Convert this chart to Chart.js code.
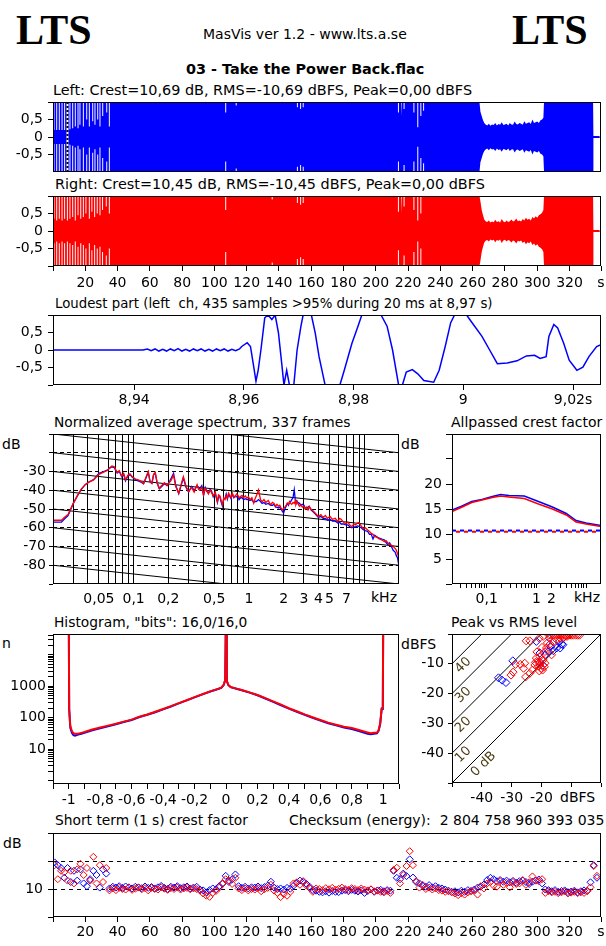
<!DOCTYPE html>
<html>
<head>
<meta charset="utf-8">
<script src="https://cdn.jsdelivr.net/npm/chart.js@4.4.1/dist/chart.umd.min.js"></script>
<style>
  html, body { margin: 0; padding: 0; background: #fff; }
  body { width: 606px; height: 946px; position: relative; overflow: hidden;
         font-family: 'DejaVu Sans', sans-serif; font-size: 14px; line-height: 14px; color: #000; }
  .t { position: absolute; white-space: pre; }
  .w { font-size: 14.4px; }
  .n { font-size: 13.8px; }
  .lts { font-family: 'Liberation Serif', serif; font-weight: bold; font-size: 42px; line-height: 42px; }
  canvas { position: absolute; }
</style>
</head>
<body>
<div class="t lts" style="left:16px;top:9px">LTS</div>
<div class="t lts" style="left:512px;top:9px">LTS</div>
<div class="t" style="left:203px;top:27px">MasVis ver 1.2 - www.lts.a.se</div>
<div class="t w" style="left:186px;top:62px;font-weight:bold">03 - Take the Power Back.flac</div>
<div class="t w" style="left:53px;top:83px">Left: Crest=10,69 dB, RMS=-10,69 dBFS, Peak=0,00 dBFS</div>
<div class="t w" style="left:55px;top:177px">Right: Crest=10,45 dB, RMS=-10,45 dBFS, Peak=0,00 dBFS</div>
<div class="t" style="left:55px;top:297px;font-size:13.3px">Loudest part (left  ch, 435 samples >95% during 20 ms at 8,97 s)</div>
<div class="t n" style="left:54px;top:415px">Normalized average spectrum, 337 frames</div>
<div class="t" style="left:451px;top:415px">Allpassed crest factor</div>
<div class="t" style="left:2px;top:437px">dB</div>
<div class="t" style="left:401px;top:437px">dB</div>
<div class="t" style="left:371px;top:590px">kHz</div>
<div class="t" style="left:574px;top:590px">kHz</div>
<div class="t n" style="left:54px;top:615px">Histogram, "bits": 16,0/16,0</div>
<div class="t" style="left:451px;top:615px">Peak vs RMS level</div>
<div class="t" style="left:2px;top:636px">n</div>
<div class="t" style="left:401px;top:637px">dBFS</div>
<div class="t" style="left:560px;top:790px">dBFS</div>
<div class="t n" style="left:55px;top:813px">Short term (1 s) crest factor</div>
<div class="t" style="left:289px;top:813px">Checksum (energy):  2 804 758 960 393 035</div>
<div class="t" style="left:3px;top:836px">dB</div>

<script>
// ---- waveform overview (seconds / peak amplitude) ----
const timeMax = 339.5;
const timeTicks = [0, 20, 40, 60, 80, 100, 120, 140, 160, 180, 200, 220, 240, 260, 280, 300, 320, 339.5];
const waveTicks = [-1, -0.5, 0, 0.5, 1];
const waveLabelled = [-0.5, 0, 0.5];

const envT = [0, 264.2, 264.8, 265.6, 266.4, 267.2, 268, 269, 270, 271, 272, 273, 274, 275, 276, 277, 278, 279, 280,
  281, 282, 283, 284, 285, 286, 287, 288, 289, 290, 291, 292, 293, 294, 295, 296, 297, 298, 299, 300, 301, 302, 303,
  303.8, 304.2, 334.6, 334.8, 338.6, 338.8];
const leftEnvPk = [1, 1, 0.72, 0.6, 0.48, 0.4, 0.36, 0.33, 0.38, 0.32, 0.36, 0.34, 0.4, 0.33, 0.37, 0.35, 0.42, 0.34, 0.36,
  0.38, 0.33, 0.4, 0.36, 0.35, 0.44, 0.37, 0.36, 0.4, 0.38, 0.35, 0.45, 0.38, 0.4, 0.42, 0.37, 0.5, 0.4, 0.42, 0.44, 0.4, 0.48, 0.5,
  0.55, 1, 1, 0.03, 0.03, 0];
const rightEnvPk = [1, 1, 0.85, 0.6, 0.45, 0.33, 0.28, 0.26, 0.3, 0.24, 0.27, 0.25, 0.32, 0.26, 0.28, 0.24, 0.34, 0.27, 0.25,
  0.3, 0.26, 0.28, 0.33, 0.27, 0.29, 0.36, 0.28, 0.3, 0.27, 0.34, 0.3, 0.38, 0.32, 0.35, 0.3, 0.4, 0.36, 0.42, 0.38, 0.45, 0.48, 0.52,
  0.6, 1, 1, 0.03, 0.03, 0];

const leftNotchT = [0.6, 2.3, 3.9, 5.6, 7.2, 10.5, 12.2, 13.8, 15.5, 16.7, 18.8, 20.9, 22.5, 24.6, 26.0, 27.7, 29.1, 30.8,
  33.3, 34.9, 107, 113.5, 151.4, 153.4, 155, 214, 215.9, 217.5, 223.6, 226, 227.9, 229.6];
const leftNotchPk = [0.2, 0.2, 0.2, 0.2, 0.2, 0.22, 0.25, 0.3, 0.25, 0.35, 0.3, 0.5, 0.3, 0.45, 0.35, 0.5, 0.3, 0.6,
  0.7, 0.3, 0.7, 0.9, 0.85, 0.8, 0.85, 0.7, 0.6, 0.8, 0.7, 0.28, 0.6, 0.75];
const rightNotchT = [0.6, 2.3, 3.9, 5.6, 7.2, 8.9, 10.5, 12.2, 13.8, 15.5, 17.2, 18.8, 20.4, 22.5, 24.1, 25.8, 27.4, 29.1,
  30.7, 33.0, 34.9, 107, 135.8, 151.4, 153.4, 155, 214, 215.9, 217.5, 223.6, 226, 227.9];
const rightNotchPk = [0.35, 0.3, 0.35, 0.3, 0.35, 0.3, 0.35, 0.4, 0.3, 0.45, 0.35, 0.4, 0.5, 0.35, 0.55, 0.4, 0.5, 0.45,
  0.6, 0.7, 0.5, 0.6, 0.9, 0.8, 0.75, 0.8, 0.55, 0.5, 0.7, 0.6, 0.3, 0.5];
const loudestMarkS = 8.97;

// ---- loudest part (seconds / amplitude) ----
const loudMin = 8.9252, loudMax = 9.0251;
const loudTicks = [8.94, 8.96, 8.98, 9, 9.02];
const loudTickLabels = ['8,94', '8,96', '8,98', '9', '9,02s'];
const loudT = [8.9252, 8.9416, 8.9424, 8.9431, 8.9438, 8.9445, 8.9452, 8.9459, 8.9466, 8.9473, 8.9480, 8.9487, 8.9494,
  8.9501, 8.9508, 8.9515, 8.9522, 8.9529, 8.9536, 8.9543, 8.9550, 8.9557, 8.9564, 8.9571, 8.9578, 8.9585, 8.9592,
  8.9596, 8.9606, 8.9612, 8.9617, 8.9622, 8.9626, 8.9631, 8.9638, 8.9644, 8.9651, 8.9657, 8.9663, 8.9669, 8.9673,
  8.9678, 8.9683, 8.9691, 8.9697, 8.9704, 8.9708, 8.9723, 8.9730, 8.9737, 8.9748, 8.9775, 8.9783, 8.9797, 8.9808,
  8.9815, 8.9850, 8.9861, 8.9871, 8.9882, 8.9889, 8.9896, 8.9907, 8.9917, 8.9928, 8.9946, 8.9956, 8.9967, 8.9977,
  8.9984, 9.0006, 9.0016, 9.0034, 9.0048, 9.0062, 9.0080, 9.0098, 9.0115, 9.0130, 9.0140, 9.0151, 9.0156, 9.0165,
  9.0172, 9.0183, 9.0193, 9.0207, 9.0218, 9.0229, 9.0243, 9.0251];
const loudV = [0, 0, 0.03, -0.02, 0.03, -0.03, 0.02, -0.03, 0.03, -0.02, 0.04, -0.03, 0.02,
  -0.03, 0.03, -0.02, 0.03, -0.03, 0.02, -0.03, 0.03, -0.02, 0.03, -0.03, 0.02, -0.02, 0.03,
  0.1, 0.21, 0.1, -0.39, -0.89, -0.58, 0, 0.92, 1.0, 0.87, 1.0, 0.49, -0.39, -1.0,
  -0.58, -1.0, -1.0, 0, 0.68, 1.0, 1.0, 0.49, -0.19, -1.0, -1.0, -0.58, 0.19, 0.68,
  1.0, 1.0, 0.68, 0, -1.0, -1.0, -0.63, -0.56, -0.68, -0.87, -0.92, -0.58, 0.1, 0.78,
  1.0, 1.0, 0.78, 0.39, 0, -0.39, -0.37, -0.31, -0.17, -0.15, -0.24, -0.19, 0.39, 0.73,
  0.63, 0.19, -0.29, -0.58, -0.49, -0.19, 0.1, 0.15];

// ---- normalized average spectrum (kHz / dB) ----
const specF = [0.020, 0.0237, 0.025, 0.027, 0.030, 0.0325, 0.035, 0.038, 0.041, 0.045,
  0.050, 0.055, 0.059, 0.062, 0.065, 0.068, 0.072, 0.075, 0.079, 0.082,
  0.085, 0.089, 0.093, 0.098, 0.104, 0.110, 0.117, 0.122, 0.128, 0.134,
  0.139, 0.144, 0.149, 0.154, 0.160, 0.167, 0.175, 0.185, 0.195, 0.201,
  0.210, 0.222, 0.232, 0.246, 0.258, 0.270, 0.285, 0.300, 0.318, 0.335,
  0.355, 0.365, 0.375, 0.39, 0.404, 0.418, 0.43, 0.445, 0.462, 0.475, 0.49,
  0.51, 0.533, 0.545, 0.56, 0.575, 0.589, 0.605, 0.62,
  0.635, 0.65, 0.665, 0.68, 0.7, 0.717, 0.74, 0.76, 0.78, 0.8, 0.82, 0.843,
  0.87, 0.9, 0.93, 0.961, 0.99, 1.02, 1.06, 1.10, 1.13,
  1.16, 1.21, 1.26, 1.30, 1.35, 1.40, 1.47, 1.54, 1.6, 1.65, 1.7, 1.75, 1.8, 1.85, 1.9, 1.96,
  2.0, 2.05, 2.1, 2.15, 2.2, 2.25, 2.3, 2.35, 2.41, 2.47, 2.52, 2.55, 2.6, 2.65,
  2.74, 2.83, 2.9, 3.0, 3.07, 3.15, 3.25, 3.33, 3.45, 3.6,
  3.8, 4.0, 4.2, 4.4, 4.6, 4.8, 5.05, 5.3, 5.6, 5.9, 6.1, 6.3, 6.6, 6.9, 7.2, 7.5, 7.8,
  8.1, 8.4, 8.7, 9.0, 9.4, 9.8, 10.2, 10.7, 11.1, 11.5, 11.9, 12.3, 12.9, 13.5, 14.2, 15.0, 15.5, 16.0,
  16.6, 17.2, 17.8, 18.5, 19.0, 19.4, 20.0];
const specLeft = [-57, -57, -55.5, -53.5, -47, -43, -39.8, -37, -35.6, -34.3,
  -31, -30, -29.3, -28.3, -27.5, -28, -30.8, -30, -32.8, -31.5,
  -35, -32.5, -31.6, -33.2, -34.4, -35, -35.8, -36.5, -33.5, -30.3,
  -35.6, -36.4, -31.8, -30.8, -36.2, -39.2, -38, -36.5, -37.5, -36.4,
  -34, -31, -37.5, -41.8, -37.5, -33.5, -38.5, -41, -38, -40,
  -37.5, -38.5, -39, -37.5, -42.8, -38.5, -40.5, -41.5, -39.5, -40.5, -43.5,
  -41.5, -46.5, -43.5, -43.5, -46.5, -48.5, -44.5, -44.5,
  -42, -44.8, -42.5, -43, -44.5, -42, -44, -43, -43.5, -43.5, -45, -44,
  -44, -45, -44.5, -45, -45, -45.5, -45, -46.5, -46,
  -46, -45, -46, -47, -46.5, -47.5, -47, -48, -48, -47.5, -49, -49, -49.5, -49, -50, -51.5,
  -52, -50, -48.5, -47, -48, -46.5, -46, -45, -44, -39.8, -45, -46, -45.5, -46.5,
  -47, -48, -47.5, -48, -49.5, -49.5, -49, -48.5, -50.5, -51.5,
  -53, -54.5, -54, -55, -55, -56, -55.5, -56.5, -56.5, -57.5, -57, -58, -58, -58.5, -58.5, -59.5, -60,
  -59.5, -59.5, -59, -59.3, -60, -61, -61.5, -62, -63.5, -63.5, -66, -64, -65, -65.5, -66, -66.5, -68, -69,
  -68, -70, -72, -73, -75, -76, -80.5];
const specRight = [-56, -56, -54.5, -53, -47, -43, -39.5, -37, -35.7, -34.5,
  -31.5, -30.3, -29.5, -28, -27, -27.5, -30.5, -29.5, -32.5, -31,
  -34.5, -32, -31.3, -33, -34, -34.5, -35.5, -36.5, -33, -30,
  -35.5, -36.2, -31.5, -30.5, -36, -38.9, -37.5, -36, -37.5, -36.2,
  -35, -32, -38, -41.6, -37, -32.7, -38, -40.7, -38.5, -41,
  -37.1, -39.5, -40, -38.5, -42.5, -39, -40, -42, -39.8, -41.5, -43,
  -41, -46.1, -42.5, -43, -45.5, -47.8, -44, -45,
  -43, -44.3, -41.5, -42.5, -44, -41.6, -43.5, -43.5, -42, -42.5, -44, -43.4,
  -42.8, -44, -43, -44.3, -43.5, -45, -44, -46.9, -44.5,
  -43, -39.8, -45, -46.1, -45, -46.5, -45.5, -47.8, -46.5, -47, -48.5, -47.5, -48.5, -48, -49.5, -50.5,
  -49.5, -49, -48, -46.9, -47.5, -46, -47, -47.5, -46.5, -47, -45.5, -47.5, -46, -47,
  -48.5, -47.8, -49, -48.5, -50, -49, -50.5, -48.8, -50, -51,
  -52.5, -54, -53, -54.5, -53.5, -55, -54, -55.5, -55, -56.8, -55, -55.5, -57, -58, -57, -58.5, -59.5,
  -58, -58.5, -57.5, -57.2, -59, -60.5, -60, -61.2, -62, -63, -63.5, -64.8, -65, -66, -66.5, -67.5, -67, -68,
  -69, -69.3, -70, -71, -72, -73.7, -76];
const specGridKHz = [0.03, 0.04, 0.05, 0.06, 0.07, 0.08, 0.09, 0.1, 0.2, 0.3, 0.4, 0.5, 0.6, 0.7, 0.8, 0.9,
  1, 2, 3, 4, 5, 6, 7, 8, 9, 10];
const specLabelled = [0.05, 0.1, 0.2, 0.5, 1, 2, 3, 4, 5, 7];
const specDbTicks = [-90, -80, -70, -60, -50, -40, -30, -20, -10];
const specDbLabelled = [-80, -70, -60, -50, -40, -30];
const slopeStarts = [10, 0, -10, -20, -30, -40, -50, -60, -70, -80];
const slopeDrop = -20; // dB over the 0.02-20 kHz span

// ---- allpassed crest factor (kHz / dB) ----
const apF = [0.02, 0.032, 0.05, 0.08, 0.13, 0.19, 0.28, 0.57, 1.1, 2.1, 4, 6.3, 10, 20];
const apLeft = [14.8, 15.6, 16.5, 16.9, 17.5, 17.9, 17.7, 17.6, 16.5, 15.4, 14.1, 12.7, 12.2, 11.7];
const apRight = [14.5, 15.4, 16.3, 16.8, 17.3, 17.6, 17.4, 17.1, 16.0, 15.0, 13.8, 12.4, 12.0, 11.5];
const crestLeftDb = 10.69, crestRightDb = 10.45;
const apTicksKHz = [0.03, 0.04, 0.05, 0.06, 0.07, 0.08, 0.09, 0.1, 0.2, 0.3, 0.4, 0.5, 0.6, 0.7, 0.8, 0.9,
  1, 2, 3, 4, 5, 6, 7, 8, 9, 10];
const apLabelled = [0.1, 1, 2];
const apDbTicks = [0, 5, 10, 15, 20, 25, 30];
const apDbLabelled = [5, 10, 15, 20];

// ---- histogram (sample value / count) ----
const histX = [-1.1, -1.003, -1.0, -0.997, -0.99, -0.98, -0.97, -0.96, -0.94, -0.92,
  -0.9, -0.85, -0.8, -0.75, -0.7, -0.65, -0.6, -0.55, -0.5, -0.45,
  -0.4, -0.35, -0.3, -0.25, -0.2, -0.15, -0.1, -0.06, -0.03, -0.015,
  -0.005, 0, 0.005, 0.015, 0.03, 0.06, 0.1, 0.15, 0.2, 0.25,
  0.3, 0.35, 0.4, 0.45, 0.5, 0.55, 0.6, 0.65, 0.7, 0.75,
  0.8, 0.85, 0.9, 0.92, 0.94, 0.96, 0.97, 0.98, 0.99, 0.997,
  1.0, 1.003, 1.1];
const histLeft = [0, 0, 3e5, 180, 48, 33, 28, 27, 29, 31,
  33, 40, 46, 53, 62, 73, 85, 105, 125, 150,
  185, 228, 285, 355, 445, 555, 680, 790, 890, 1090,
  1550, 3e5, 1480, 1080, 940, 850, 750, 630, 520, 410,
  320, 250, 195, 155, 124, 100, 82, 67, 57, 49,
  44, 37, 31, 30, 31, 32, 38, 60, 190, 190,
  3e5, 0, 0];
const histRight = [0, 0, 3e5, 190, 55, 38, 32, 31, 31, 33,
  35, 42, 49, 56, 64, 75, 87, 108, 127, 155,
  190, 233, 290, 360, 450, 560, 690, 800, 900, 1100,
  1600, 3e5, 1500, 1100, 950, 860, 760, 640, 530, 420,
  330, 260, 200, 160, 128, 104, 85, 70, 60, 52,
  47, 40, 34, 32, 33, 34, 40, 65, 200, 200,
  3e5, 0, 0];
const histXTicks = [-1.1, -1, -0.9, -0.8, -0.7, -0.6, -0.5, -0.4, -0.3, -0.2, -0.1, 0,
  0.1, 0.2, 0.3, 0.4, 0.5, 0.6, 0.7, 0.8, 0.9, 1, 1.1];
const histXLabelled = [-1, -0.8, -0.6, -0.4, -0.2, 0, 0.2, 0.4, 0.6, 0.8, 1];
const histNTicks = [1, 2, 3, 4, 5, 6, 7, 8, 9, 10, 20, 30, 40, 50, 60, 70, 80, 90, 100, 200, 300, 400, 500, 600, 700,
  800, 900, 1000, 2000, 3000, 4000, 5000, 6000, 7000, 8000, 9000, 10000, 20000, 30000, 40000];
const histNLabelled = [10, 100, 1000];
const histNMin = 0.78, histNMax = 46000;

// ---- peak vs RMS (dBFS) ----
const pvrLeftRms = [-34.4, -33.2, -31.9, -29.6, -21.7, -16.9, -16.0, -14.9, -13.2, -17.7, -18.8, -20.5, -17.3, -14.0,
  -12.8, -13.7, -20.5, -19.5];
const pvrLeftPeak = [-14.7, -15.5, -16.3, -9.0, -2.5, -4.2, -5.6, -4.7, -3.4, -5.9, -7.0, -6.4, -1.4, -2.5,
  -3.6, -4.7, -9.5, -10.5];
const pvrRightRms = [-17.5, -16.8, -16.0, -15.2, -14.5, -13.8, -13.0, -12.3, -11.5, -10.8, -10.0, -9.3, -8.5, -7.8, -7.2,
  -25.1, -23.9, -20.7, -19.4, -30.2, -29.5, -28.7, -27.1, -26.0, -25.6, -23.9, -25.3, -23.0, -22.2,
  -21.7, -21.1, -20.5, -20.0, -19.4, -20.5, -18.8, -19.6, -20.7, -18.3, -17.1, -18.8, -16.6, -16.0,
  -14.9, -13.7, -12.6, -11.4, -21.5, -19.8, -18.0, -20.0, -21.0, -19.0, -22.0];
const pvrRightPeak = [-0.4, -0.4, -0.4, -0.4, -0.4, -0.4, -0.4, -0.4, -0.4, -0.4, -0.4, -0.4, -0.4, -0.4, -0.4,
  -2.3, -2.3, -1.4, -0.8, -13.8, -12.8, -10.2, -10.2, -11.5, -9.8, -13.2, -14.4, -12.1, -10.4,
  -8.1, -9.3, -10.4, -11.5, -8.7, -7.6, -9.8, -12.1, -12.4, -4.7, -3.4, -5.9, -7.0, -2.7,
  -1.9, -1.4, -1.1, -0.8, -6.0, -4.5, -3.0, -8.5, -10.8, -11.0, -9.5];
const crestLines = [0, 10, 20, 30, 40];
const pvrTicks = [-50, -40, -30, -20, -10, 0];
const pvrXLabelled = [-40, -30, -20];
const pvrYLabelled = [-40, -30, -20, -10];

// ---- short term (1 s) crest factor, one value every 2 s from 1 s ----
const stcLeft = [19.5, 18.5, 17.5, 14.0, 17.5, 12.5, 16.5, 13.0, 17.0, 12.0, 11.0, 13.5, 16.5, 15.0, 10.5, 17.0, 15.5, 10.2,
  10.8, 10.5, 11.0, 10.4, 10.9, 10.6, 10.2, 10.8, 10.5, 10.3, 10.9, 10.4, 10.7, 10.2, 10.6, 11.1, 10.4, 10.0, 10.8, 10.5, 11.0, 10.3, 10.6, 10.9, 10.2, 10.5, 10.8,
  9.8, 9.5, 8.8, 9.6, 10.2, 9.9, 11.0, 12.0, 14.7, 12.5, 13.5, 15.2, 11.0,
  10.4, 10.8, 10.2, 10.6, 10.5, 10.9, 10.3, 10.7, 11.2, 12.6, 10.5, 10.0, 10.2, 9.8, 10.4, 10.1, 11.2,
  12.2, 13.0, 12.5, 11.8, 10.8, 9.6,
  9.4, 9.0, 8.8, 9.2, 8.7, 9.3, 9.0, 8.9, 9.4, 9.6, 9.2, 9.7, 9.4, 9.1, 9.5, 8.6, 9.3, 9.8, 9.0, 9.5, 9.7, 9.2, 9.6, 9.4,
  16.5, 14.0, 13.5, 15.5, 14.6, 20.6, 14.1, 12.5, 12.0, 11.2,
  10.8, 11.4, 10.6, 11.0, 10.4, 10.2, 9.8, 9.4, 9.0, 9.2, 8.8, 9.4, 9.0, 9.6, 9.3, 9.8, 10.5,
  10.8, 11.6, 13.2, 14.0, 13.5, 12.8, 13.2, 12.6, 13.0, 12.4, 12.9, 12.2, 12.8, 13.0, 12.5, 11.8, 12.6, 13.0, 13.4, 12.0,
  9.8, 9.6, 9.2, 9.6, 9.0, 9.3, 9.5, 8.9, 9.1, 9.4, 8.8, 9.2, 9.5, 9.4,
  12.4, 18.5, 14.0];
const stcRight = [18.5, 13.5, 16.5, 16.0, 13.0, 16.5, 12.0, 17.0, 19.0, 15.0, 17.5, 13.0, 21.5, 12.0, 18.5, 12.5, 17.5, 9.5,
  10.2, 9.6, 10.4, 10.0, 9.8, 10.5, 9.7, 10.1, 10.6, 9.9, 10.3, 9.5, 10.4, 10.0, 9.8, 10.6, 10.1, 9.7, 10.3, 10.0, 10.5, 9.8, 10.2, 10.4, 9.9, 10.2, 10.0,
  9.4, 8.4, 7.6, 7.2, 8.6, 9.3, 10.5, 11.8, 13.5, 13.0, 11.8, 14.0, 10.2,
  9.6, 10.2, 9.5, 10.0, 9.8, 10.3, 9.2, 9.9, 10.4, 11.5, 9.4, 8.6, 7.1, 8.2, 7.6, 9.0, 12.0,
  12.4, 11.5, 12.8, 11.2, 10.3, 9.0,
  10.2, 10.0, 9.6, 10.3, 9.9, 10.4, 9.8, 10.1, 10.5, 10.0, 9.7, 10.3, 10.0, 9.6, 10.2, 9.8, 9.5, 9.9, 9.2, 9.4, 9.0, 8.8, 9.3, 8.6,
  16.8, 17.6, 12.0, 15.0, 18.2, 23.5, 18.5, 12.8, 10.5, 11.5,
  10.0, 10.5, 9.8, 10.2, 9.6, 9.4, 9.0, 9.2, 8.8, 8.4, 7.8, 8.5, 8.0, 8.8, 9.2, 9.4, 8.0,
  11.0, 10.2, 12.0, 12.5, 11.2, 10.8, 12.8, 11.5, 12.2, 10.6, 12.5, 11.8, 12.0, 13.2, 11.5, 12.4, 14.5, 13.0, 12.8, 13.5,
  8.6, 9.2, 8.8, 9.0, 8.5, 8.8, 9.1, 8.4, 8.7, 9.0, 8.5, 8.8, 8.6, 9.2,
  10.6, 18.2, 14.7];
const stcTicks = [0, 10, 20, 30];
const stcLabelled = [10];

// ---------------------------------------------------------------
const BLUE = '#0000ff', RED = '#ff0000';
Chart.defaults.font.family = "'DejaVu Sans', sans-serif";
Chart.defaults.font.size = 14;
Chart.defaults.color = '#000';
Chart.defaults.animation = false;
Chart.defaults.responsive = false;
Chart.defaults.events = [];
Chart.defaults.plugins.legend.display = false;
Chart.defaults.plugins.tooltip.enabled = false;

// black box round every plot area
Chart.register({
  id: 'frame',
  afterDraw(chart) {
    const a = chart.chartArea, ctx = chart.ctx;
    ctx.save();
    ctx.strokeStyle = '#000';
    ctx.lineWidth = 1;
    ctx.strokeRect(a.left + 0.5, a.top + 0.5, a.right - a.left - 1, a.bottom - a.top - 1);
    ctx.restore();
  }
});

const comma = v => String(v).replace('.', ',');
const pts = (xs, ys) => xs.map((x, i) => ({x, y: ys[i]}));

function canvasFor(b) {
  const c = document.createElement('canvas');
  const x0 = b.L - b.yW, y0 = b.T - b.padT;
  c.width = b.R + 1 - x0 + b.padR;
  c.height = b.padT + b.B + 1 - b.T + b.xH;
  c.style.left = x0 + 'px';
  c.style.top = y0 + 'px';
  c.style.width = c.width + 'px';
  c.style.height = c.height + 'px';
  document.body.appendChild(c);
  return c;
}

function axis(type, min, max, ticks, label, o) {
  o = o || {};
  return {
    type, min, max,
    display: !o.hidden,
    afterBuildTicks: s => { s.ticks = ticks.map(v => ({value: v})); },
    afterFit: s => {
      if (o.hidden) return;
      if (s.isHorizontal()) s.height = o.size; else s.width = o.size;
      s.paddingLeft = s.paddingRight = s.paddingTop = s.paddingBottom = 0;
    },
    ticks: {autoSkip: false, maxRotation: 0, minRotation: 0, padding: o.pad == null ? 3 : o.pad,
      callback: v => label(v)},
    grid: {drawOnChartArea: !!o.grid, drawTicks: o.tick !== 0, tickLength: o.tick || 5,
      color: o.grid || '#000', tickColor: '#000', lineWidth: 1},
    border: {display: false, dash: o.dash || []}
  };
}

function line(data, color, width, extra) {
  return Object.assign({data, showLine: true, borderColor: color, borderWidth: width,
    pointRadius: 0, fill: false}, extra || {});
}

// note: Chart.js paints the first dataset last, so lists below go from top layer down
function makeChart(b, xAxis, yAxis, datasets, plugins) {
  return new Chart(canvasFor(b), {
    type: 'scatter',
    data: {datasets},
    options: {
      layout: {padding: {left: 0, top: b.padT, right: b.padR, bottom: xAxis.display ? 0 : b.xH}},
      scales: {x: xAxis, y: yAxis}
    },
    plugins: plugins || []
  });
}

// waveform envelope with short quiet notches
const NOTCH_W = 0.6;
function envelope(tArr, pkArr, notchT, notchPk, sign) {
  const p = tArr.map((t, i) => ({x: t, y: pkArr[i]}));
  notchT.forEach((t, i) => {
    const a = t - NOTCH_W / 2, b = t + NOTCH_W / 2;
    p.push({x: a, y: 1}, {x: a, y: notchPk[i]}, {x: b, y: notchPk[i]}, {x: b, y: 1});
  });
  p.sort((m, n) => m.x - n.x);
  return p.map(q => ({x: q.x, y: sign * q.y}));
}
function waveSets(pk, nT, nPk, color) {
  const o = {fill: 'origin', backgroundColor: color, borderColor: 'rgba(0,0,0,0)', borderWidth: 0};
  return [line(envelope(envT, pk, nT, nPk, 1), color, 0, o), line(envelope(envT, pk, nT, nPk, -1), color, 0, o)];
}

const timeLabel = v => v === 0 ? '' : (v === timeMax ? 's' : String(v));
const waveY = () => axis('linear', -1, 1, waveTicks, v => waveLabelled.includes(v) ? comma(v) : '',
  {size: 53, tick: 5, pad: 5});

// 1. left channel
makeChart({L: 53, T: 102, R: 600, B: 171, yW: 53, padT: 8, padR: 5, xH: 0},
  axis('linear', 0, timeMax, timeTicks, timeLabel, {hidden: true}),
  waveY(),
  [line(pts([loudestMarkS, loudestMarkS], [-1, 1]), '#000000', 2, {borderDash: [2, 2]}),
   line(pts([loudestMarkS, loudestMarkS], [-1, 1]), '#ffffff', 2)]
    .concat(waveSets(leftEnvPk, leftNotchT, leftNotchPk, BLUE)));

// 2. right channel
makeChart({L: 53, T: 196, R: 600, B: 265, yW: 53, padT: 8, padR: 5, xH: 26},
  axis('linear', 0, timeMax, timeTicks, timeLabel, {size: 26, tick: 5, pad: 4}),
  waveY(),
  waveSets(rightEnvPk, rightNotchT, rightNotchPk, RED));

// 3. loudest part
makeChart({L: 53, T: 315, R: 600, B: 384, yW: 53, padT: 8, padR: 5, xH: 24},
  axis('linear', loudMin, loudMax, loudTicks, v => loudTickLabels[loudTicks.indexOf(v)], {size: 24, tick: 5, pad: 2}),
  waveY(),
  [line(pts(loudT, loudV), BLUE, 1.5)]);

// 4. spectrum
makeChart({L: 53, T: 434, R: 398, B: 583, yW: 53, padT: 8, padR: 4, xH: 24},
  axis('logarithmic', 0.02, 20, specGridKHz, v => specLabelled.includes(v) ? comma(v) : '',
    {size: 24, tick: 0, pad: 7, grid: '#000'}),
  axis('linear', -90, -10, specDbTicks, v => specDbLabelled.includes(v) ? String(v) : '',
    {size: 53, tick: 4, pad: 3, grid: c => (c.tick && c.tick.value > -90 && c.tick.value < -10) ? '#000' : 'rgba(0,0,0,0)',
     dash: [4, 3]}),
  [line(pts(specF, specRight), RED, 1.3), line(pts(specF, specLeft), BLUE, 1.3)]
    .concat(slopeStarts.map(s => line(pts([0.02, 20], [s, s + slopeDrop]), '#000', 1))));

// 5. allpassed crest factor
makeChart({L: 452, T: 434, R: 600, B: 583, yW: 50, padT: 8, padR: 5, xH: 24},
  axis('logarithmic', 0.02, 20, apTicksKHz, v => apLabelled.includes(v) ? comma(v) : '', {size: 24, tick: 4, pad: 3}),
  axis('linear', 0, 30, apDbTicks, v => apDbLabelled.includes(v) ? String(v) : '', {size: 50, tick: 6, pad: 4}),
  [line(pts(apF, apRight), RED, 1.5),
   line(pts(apF, apLeft), BLUE, 1.5),
   line(pts([0.02, 20], [crestRightDb, crestRightDb]), RED, 2, {borderDash: [4, 4], borderDashOffset: 4}),
   line(pts([0.02, 20], [crestLeftDb, crestLeftDb]), BLUE, 2, {borderDash: [4, 4]})]);

// 6. histogram
makeChart({L: 53, T: 634, R: 398, B: 783, yW: 53, padT: 8, padR: 4, xH: 24},
  axis('linear', -1.1, 1.1, histXTicks, v => histXLabelled.includes(v) ? comma(v) : '', {size: 24, tick: 5, pad: 3}),
  axis('logarithmic', histNMin, histNMax, histNTicks, v => histNLabelled.includes(v) ? String(v) : '',
    {size: 53, tick: 5, pad: 2}),
  [line(pts(histX, histRight), RED, 2), line(pts(histX, histLeft), BLUE, 2)]);

// 7. peak vs RMS
const crestText = {
  id: 'crestText',
  afterDatasetsDraw(chart) {
    const {ctx, scales: {x, y}} = chart;
    crestLines.forEach(c => {
      const rms = c === 0 ? -39.4 : -46.2;
      ctx.save();
      ctx.translate(x.getPixelForValue(rms), y.getPixelForValue(rms + c - 4.3));
      ctx.rotate(-Math.PI / 4);
      ctx.font = "13px 'DejaVu Sans'";
      ctx.fillStyle = '#4a3a10';
      ctx.textAlign = 'center';
      ctx.textBaseline = 'middle';
      ctx.fillText(c === 0 ? '0 dB' : String(c), 0, 0);
      ctx.restore();
    });
  }
};
const diamond = (color, r) => ({pointStyle: 'rectRot', pointRadius: r, borderColor: color, borderWidth: 1,
  backgroundColor: 'rgba(0,0,0,0)', showLine: false});
makeChart({L: 452, T: 634, R: 600, B: 782, yW: 50, padT: 8, padR: 5, xH: 24},
  axis('linear', -50, 0, pvrTicks, v => pvrXLabelled.includes(v) ? String(v) : '', {size: 24, tick: 4, pad: 3}),
  axis('linear', -50, 0, pvrTicks, v => pvrYLabelled.includes(v) ? String(v) : '', {size: 50, tick: 4, pad: 4}),
  [Object.assign({data: pts(pvrRightRms, pvrRightPeak)}, diamond(RED, 4)),
   Object.assign({data: pts(pvrLeftRms, pvrLeftPeak)}, diamond(BLUE, 4))]
    .concat(crestLines.map(c => line(pts([-50, 0], [-50 + c, c]), '#000', 1))),
  [crestText]);

// 8. short term crest factor
const stcTimes = stcLeft.map((_, i) => 1 + 2 * i);
makeChart({L: 53, T: 833, R: 600, B: 916, yW: 53, padT: 8, padR: 5, xH: 28},
  axis('linear', 0, timeMax, timeTicks, timeLabel, {size: 28, tick: 5, pad: 2}),
  axis('linear', 0, 30, stcTicks, v => stcLabelled.includes(v) ? String(v) : '',
    {size: 53, tick: 5, pad: 5, grid: c => (c.tick && (c.tick.value === 10 || c.tick.value === 20)) ? '#000' : 'rgba(0,0,0,0)',
     dash: [4, 4]}),
  [Object.assign({data: pts(stcTimes, stcRight)}, diamond(RED, 3.5)),
   Object.assign({data: pts(stcTimes, stcLeft)}, diamond(BLUE, 3.5))]);
</script>
</body>
</html>
